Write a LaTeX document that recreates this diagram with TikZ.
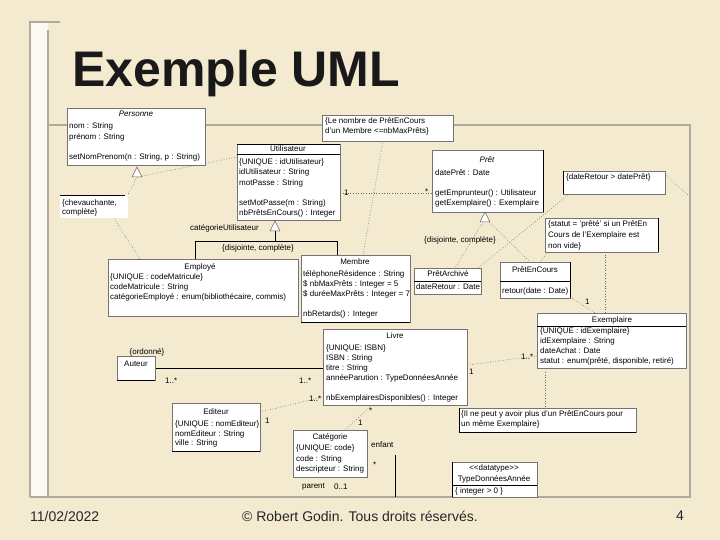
\documentclass[tikz,border=0pt]{standalone}
\usepackage{fontspec}
\setmainfont{Liberation Sans}
\definecolor{parch}{RGB}{243,234,208}
\definecolor{framegray}{RGB}{175,170,155}
\begin{document}
\begin{tikzpicture}[x=1pt,y=-1pt,
  cls/.style={draw=black!55,line width=0.5pt,fill=white,inner sep=0pt,anchor=north west},
  t/.style={font=\fontsize{8}{10}\selectfont,inner sep=0pt,anchor=west},
  tc/.style={font=\fontsize{8}{10}\selectfont,inner sep=0pt},
  dl/.style={draw=black!60,line width=0.6pt,dotted},
  sl/.style={draw=black,line width=0.6pt},
  sep/.style={draw=black,line width=0.6pt},
  gen/.style={draw=black!60,fill=white,line width=0.5pt},
  foot/.style={font=\fontsize{14}{16}\selectfont,text=black!85,inner sep=0pt}]
\fill[parch] (0,0) rectangle (720,540);
\useasboundingbox (0,0) rectangle (720,540);
% slide decoration
\fill[white!70!parch] (30,22) rectangle (48,497);
\draw[framegray,line width=1.5pt] (30,497) -- (30,22) -- (60,22);
\draw[framegray,line width=1.5pt] (48,30) -- (48,497);
\draw[framegray,line width=1.5pt] (48,125) -- (690,125) -- (690,497) -- (30,497);
% title
\node[font=\bfseries\fontsize{50}{56}\selectfont,inner sep=0pt,anchor=base west,text=black!90] (title) at (72,87) {Exemple UML};
% footer
\node[foot,anchor=west] (date) at (30,516) {11/02/2022};
\node[foot] (copy) at (360,516) {© Robert Godin. Tous droits réservés.};
\node[foot,anchor=east] (page) at (684,516) {4};

% ---------- connectors behind boxes ----------
\coordinate (pgA) at (137,177);
\coordinate (pgB) at (115,220);
\draw[dl] (pgA) -- (237,157);
\draw[dl] (pgA) -- (pgB) -- (140,259);
\draw[dl] (383,141) -- (363,255);
\draw[dl] (340,193) -- (432,193);
\draw[dl] (568,195) -- (478,268);
\draw[dl] (662,172) -- (688,195);
\draw[dl] (548,252) -- (540,262);
\draw[dl] (605,252) -- (605,313);
\draw[dl] (570,297) -- (595,313);
\draw[dl] (467,365) -- (537,356);
\draw[dl] (545,409) -- (545,370);
\draw[dl] (260,412) -- (323,397);
\draw[dl] (372,405) -- (345,430);
\draw[dl] (483,222) -- (455,268);
\draw[dl] (489,222) -- (530,262);
\draw[sl] (155,368) -- (323,368);
\draw[sl] (275,231) -- (275,241);
\draw[sl] (195,259) |- (337,241) -- (337,255);
\draw[sl] (395,455) -- (395,497);

% ---------- Personne ----------
\node[cls,minimum width=138pt,minimum height=57pt] (personne) at (67,108) {};
\node[tc] (pe0) at (136,114) {\itshape Personne};
\node[t] (pe1) at (69,126) {nom : String};
\node[t] (pe2) at (69,137) {prénom : String};
\node[t] (pe3) at (69,157) {setNomPrenom(n : String, p : String)};
\draw[gen] (137,167) -- (132,177) -- (142,177) -- cycle;

% chevauchante label
\node[fill=white,inner sep=0pt,anchor=north west,minimum width=68pt,minimum height=23pt] (chev) at (60,195) {};
\draw[sl] (60,195) -- (125,195);
\node[t] (ch1) at (62,203) {\{chevauchante,};
\node[t] (ch2) at (62,212) {complète\}};

% ---------- Utilisateur ----------
\node[cls,minimum width=103pt,minimum height=76pt] (util) at (237,144) {};
\draw[sep] (237,144) -- (340,144);
\draw[sep] (237,154) -- (340,154);
\node[tc] (ut0) at (288,149) {Utilisateur};
\node[t] (ut1) at (239,162) {\{UNIQUE : idUtilisateur\}};
\node[t] (ut2) at (239,172) {idUtilisateur : String};
\node[t] (ut3) at (239,183) {motPasse : String};
\node[t] (ut4) at (239,203) {setMotPasse(m : String)};
\node[t] (ut5) at (239,213) {nbPrêtsEnCours() : Integer};
\draw[gen] (275,221) -- (270,231) -- (280,231) -- cycle;
\node[t] (catu) at (190,228) {catégorieUtilisateur};
\node[t] (disj1) at (222,248) {\{disjointe, complète\}};
\node[t] (m1) at (344,193) {1};
\node[t] (m2) at (425,192) {*};

% ---------- Note Le nombre ----------
\node[cls,minimum width=131pt,minimum height=26pt] (note1) at (322,115) {};
\node[t] (n11) at (325,121) {\{Le nombre de PrêtEnCours};
\node[t] (n12) at (325,131) {d'un Membre <=nbMaxPrêts\}};

% ---------- Prêt ----------
\node[cls,minimum width=111pt,minimum height=62pt] (pret) at (432,150) {};
\draw[sep] (543,150) -- (543,212);
\node[tc] (pr0) at (487,160) {\itshape Prêt};
\node[t] (pr1) at (435,173) {datePrêt : Date};
\node[t] (pr2) at (435,193) {getEmprunteur() : Utilisateur};
\node[t] (pr3) at (435,203) {getExemplaire() : Exemplaire};
\draw[gen] (485,212) -- (480,222) -- (490,222) -- cycle;
\node[t] (disj2) at (424,240) {\{disjointe, complète\}};

% ---------- Notes dateRetour / statut ----------
\node[cls,minimum width=102pt,minimum height=23pt] (note2) at (563,171) {};
\draw[sep] (563,171) -- (563,194);
\node[t] (n21) at (566,177) {\{dateRetour > datePrêt\}};
\node[cls,minimum width=113pt,minimum height=34pt] (note3) at (545,218) {};
\draw[sep] (658,218) -- (658,252);
\node[t] (n31) at (548,224) {\{statut = 'prêté' si un PrêtEn};
\node[t] (n32) at (548,235) {Cours de l'Exemplaire est};
\node[t] (n33) at (548,246) {non vide\}};

% ---------- Employé ----------
\node[cls,minimum width=190pt,minimum height=57pt] (employe) at (108,259) {};
\node[tc] (em0) at (200,267) {Employé};
\node[t] (em1) at (110,277) {\{UNIQUE : codeMatricule\}};
\node[t] (em2) at (110,287) {codeMatricule : String};
\node[t] (em3) at (110,297) {catégorieEmployé : enum(bibliothécaire, commis)};

% ---------- Membre ----------
\node[cls,minimum width=109pt,minimum height=67pt] (membre) at (301,255) {};
\draw[sep] (301,322) -- (410,322);
\node[tc] (me0) at (355,262) {Membre};
\node[t] (me1) at (303,274) {téléphoneRésidence : String};
\node[t] (me2) at (303,284) {\$ nbMaxPrêts : Integer = 5};
\node[t] (me3) at (303,294) {\$ duréeMaxPrêts : Integer = 7};
\node[t] (me4) at (303,314) {nbRetards() : Integer};

% ---------- PrêtArchivé / PrêtEnCours ----------
\node[cls,minimum width=67pt,minimum height=26pt] (parch) at (414,268) {};
\draw[sep] (414,281) -- (481,281);
\node[tc] (pa0) at (448,274) {PrêtArchivé};
\node[t] (pa1) at (416,287) {dateRetour : Date};
\node[cls,minimum width=70pt,minimum height=36pt] (pcours) at (500,262) {};
\draw[sep] (500,281) -- (570,281);
\draw[sep] (570,262) -- (570,298);
\node[tc] (pc0) at (535,270) {PrêtEnCours};
\node[t] (pc1) at (502,291) {retour(date : Date)};
\node[t] (m3) at (585,302) {1};

% ---------- Exemplaire ----------
\node[cls,minimum width=149pt,minimum height=55pt] (exemp) at (537,313) {};
\draw[sep] (537,326) -- (686,326);
\node[tc] (ex0) at (612,320) {Exemplaire};
\node[t] (ex1) at (540,331) {\{UNIQUE : idExemplaire\}};
\node[t] (ex2) at (540,341) {idExemplaire : String};
\node[t] (ex3) at (540,351) {dateAchat : Date};
\node[t] (ex4) at (540,361) {statut : enum(prêté, disponible, retiré)};
\node[t] (m4) at (521,357) {1..*};

% ---------- Auteur ----------
\node[cls,minimum width=38pt,minimum height=24pt] (auteur) at (117,356) {};
\draw[sep] (117,380) -- (155,380);
\node[tc] (au0) at (136,364) {Auteur};
\node[tc] (ord) at (147,352) {\{ordonné\}};
\node[t] (m5) at (165,381) {1..*};
\node[t] (m6) at (299,381) {1..*};

% ---------- Livre ----------
\node[cls,minimum width=144pt,minimum height=76pt] (livre) at (323,329) {};
\node[tc] (li0) at (395,336) {Livre};
\node[t] (li1) at (326,348) {\{UNIQUE: ISBN\}};
\node[t] (li2) at (326,358) {ISBN : String};
\node[t] (li3) at (326,368) {titre : String};
\node[t] (li4) at (326,378) {annéeParution : TypeDonnéesAnnée};
\node[t] (li5) at (326,398) {nbExemplairesDisponibles() : Integer};
\node[t] (m7) at (469,372) {1};
\node[t] (m8) at (309,399) {1..*};

% ---------- Editeur ----------
\node[cls,minimum width=88pt,minimum height=48pt] (editeur) at (172,403) {};
\draw[sep] (172,451) -- (260,451);
\node[tc] (ed0) at (216,412) {Editeur};
\node[t] (ed1) at (175,424) {\{UNIQUE : nomEditeur\}};
\node[t] (ed2) at (175,434) {nomEditeur : String};
\node[t] (ed3) at (175,443) {ville : String};
\node[t] (m9) at (265,421) {1};

% ---------- Catégorie ----------
\node[cls,minimum width=74pt,minimum height=47pt] (categ) at (293,430) {};
\node[tc] (ca0) at (330,437) {Catégorie};
\node[t] (ca1) at (296,448) {\{UNIQUE: code\}};
\node[t] (ca2) at (296,459) {code : String};
\node[t] (ca3) at (296,469) {descripteur : String};
\node[t] (m10) at (358,423) {1};
\node[t] (m11) at (369,411) {*};
\node[t] (enf) at (371,445) {enfant};
\node[t] (m12) at (373,465) {*};
\node[t] (par) at (302,487) {parent};
\node[t] (m13) at (334,487) {0..1};

% ---------- Note Il ne peut ----------
\node[cls,minimum width=177pt,minimum height=24pt] (note4) at (459,408) {};
\draw[sep] (459,408) -- (459,432) -- (636,432);
\node[t] (n41) at (461,414) {\{Il ne peut y avoir plus d'un PrêtEnCours pour};
\node[t] (n42) at (461,424) {un même Exemplaire\}};

% ---------- TypeDonnéesAnnée ----------
\node[cls,minimum width=85pt,minimum height=35pt] (typeda) at (452,462) {};
\draw[sep] (452,462) -- (452,497);
\draw[sep] (452,485) -- (537,485);
\node[tc] (ty0) at (494,468) {<{}<datatype>{}>};
\node[tc] (ty1) at (494,479) {TypeDonnéesAnnée};
\node[t] (ty2) at (455,491) {\{ integer > 0 \}};
\end{tikzpicture}
\end{document}
